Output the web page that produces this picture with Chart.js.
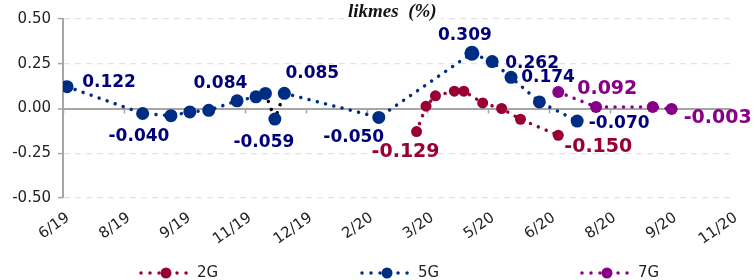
<!DOCTYPE html>
<html><head><meta charset="utf-8">
<script src="https://cdn.jsdelivr.net/npm/chart.js@4.4.1/dist/chart.umd.min.js"></script>
<style>
body{margin:0;background:#fff;}
#wrap{position:relative;width:755px;height:280px;overflow:hidden;}
#title{position:absolute;left:344px;top:1px;font:italic bold 19px "Liberation Serif";background:#fff;padding:0 4px;white-space:pre;color:#111;line-height:20px;}
</style></head><body>
<div id="wrap"><canvas id="c" width="755" height="280"></canvas><div id="title">likmes  (%)</div></div>
<script>
// ---- data ----
const xTickLabels = ['6/19','8/19','9/19','11/19','12/19','2/20','3/20','5/20','6/20','8/20','9/20','11/20'];
const tickStepDays = 45;
const seriesNames = ['2G','5G','7G'];

const days2G   = [262, 269, 276, 290, 297, 311, 325, 339, 367];
const values2G = [-0.129, 0.013, 0.071, 0.097, 0.097, 0.031, 0.000, -0.060, -0.150];

const days5G   = [3, 59, 80, 94, 108, 129, 143, 150, 157, 164, 234, 303, 318, 332, 353, 381];
const values5G = [0.122, -0.028, -0.040, -0.019, -0.010, 0.043, 0.065, 0.084, -0.059, 0.085, -0.050, 0.309, 0.262, 0.174, 0.037, -0.070];

const days7G   = [367, 395, 437, 451];
const values7G = [0.092, 0.009, 0.009, -0.003];

const labeled2G = [0, 8];
const labeled5G = [0, 2, 7, 8, 9, 10, 11, 12, 13, 15];
const labeled7G = [0, 3];

// ---- styling ----
const colors = {
  '2G': {line:'#990033', label:'#990033'},
  '5G': {line:'#002D84', label:'#00007A'},
  '7G': {line:'#870087', label:'#870087'}
};
const labelOffsets = {
  '2G': {0:[-11,19], 8:[40,10]},
  '5G': {0:[42,-6], 2:[-32,19], 7:[-45,-12], 8:[-11,22], 9:[28,-21], 10:[-25,18], 11:[-7,-19], 12:[40,0], 13:[37,-1], 15:[42,1]},
  '7G': {0:[49,-5], 3:[46,7]}
};
const labelFont = {'2G':19, '5G':17, '7G':19};
const seriesDays = [days2G, days5G, days7G];
const seriesValues = [values2G, values5G, values7G];
const seriesLabeled = [labeled2G, labeled5G, labeled7G];

function pts(d, v){ return d.map((x,i)=>({x:x, y:v[i]})); }

const dotted = {borderDash:[0.01, 8.5], borderCapStyle:'round', borderWidth:3.5, tension:0, fill:false, pointBorderWidth:0};

const datasets = [
  Object.assign({label:'2G', data:pts(days2G, values2G), borderColor:colors['2G'].line, pointBackgroundColor:colors['2G'].line, pointRadius:5.5}, dotted),
  Object.assign({label:'5G', data:pts(days5G, values5G), borderColor:colors['5G'].line, pointBackgroundColor:colors['5G'].line,
    pointRadius: values5G.map((v,i)=> i===11 ? 7.5 : 6.5),
    segment:{borderColor: c => (c.p0DataIndex===7 || c.p0DataIndex===8) ? '#000000' : undefined}}, dotted),
  Object.assign({label:'7G', data:pts(days7G, values7G), borderColor:colors['7G'].line, pointBackgroundColor:colors['7G'].line, pointRadius:6}, dotted)
];

const extras = {
  id:'extras',
  beforeDatasetsDraw(chart){
    const ctx = chart.ctx, xs = chart.scales.x, ys = chart.scales.y;
    const y0 = ys.getPixelForValue(0);
    ctx.save();
    ctx.strokeStyle = '#a6a6a6'; ctx.lineWidth = 1.5;
    xs.ticks.forEach(t => {
      const px = Math.round(xs.getPixelForValue(t.value)) + 0.5;
      ctx.beginPath(); ctx.moveTo(px, y0); ctx.lineTo(px, y0 + 5); ctx.stroke();
    });
    ctx.restore();
  },
  afterDatasetsDraw(chart){
    const ctx = chart.ctx;
    ctx.save();
    seriesNames.forEach((name, di) => {
      const meta = chart.getDatasetMeta(di);
      const fs = labelFont[name];
      ctx.font = 'bold ' + fs + 'px "DejaVu Sans"';
      ctx.fillStyle = colors[name].label;
      ctx.textAlign = 'center'; ctx.textBaseline = 'alphabetic';
      seriesLabeled[di].forEach(idx => {
        const el = meta.data[idx];
        const off = labelOffsets[name][idx] || [0,-15];
        ctx.fillText(seriesValues[di][idx].toFixed(3), el.x + off[0], el.y + off[1] + fs*0.36);
      });
    });
    // legend
    const legendX = [141, 362, 582], ly = 273;
    seriesNames.forEach((name, di) => {
      const x0 = legendX[di], c = colors[name].line;
      ctx.strokeStyle = c; ctx.lineWidth = 3.5; ctx.lineCap = 'round';
      ctx.setLineDash([0.01, 9]);
      ctx.beginPath(); ctx.moveTo(x0, ly); ctx.lineTo(x0 + 48, ly); ctx.stroke();
      ctx.setLineDash([]);
      ctx.fillStyle = c;
      ctx.beginPath(); ctx.arc(x0 + 25, ly, 5.5, 0, Math.PI*2); ctx.fill();
      ctx.fillStyle = '#222';
      ctx.font = '15px "DejaVu Sans"'; ctx.textAlign = 'left'; ctx.textBaseline = 'middle';
      ctx.fillText(name, x0 + 56, ly);
    });
    ctx.restore();
  }
};

new Chart(document.getElementById('c'), {
  type:'line',
  data:{datasets},
  options:{
    responsive:false, animation:false, events:[],
    layout:{padding:{left:0, right:24, top:19, bottom:0}},
    plugins:{legend:{display:false}, tooltip:{enabled:false}},
    scales:{
      x:{type:'linear', min:0, max:tickStepDays*(xTickLabels.length-1),
        afterFit: s => { s.height = 82; s.paddingLeft = 0; s.paddingRight = 0; },
        afterBuildTicks: s => { s.ticks = xTickLabels.map((l,i)=>({value:i*tickStepDays})); },
        ticks:{autoSkip:false, minRotation:35, maxRotation:35, padding:3, labelOffset:5, color:'#222',
          font:{family:'DejaVu Sans', size:15},
          callback: v => xTickLabels[Math.round(v/tickStepDays)]},
        grid:{display:false}, border:{display:false}},
      y:{min:-0.5, max:0.5,
        afterFit: s => { s.width = 63; s.paddingTop = 0; s.paddingBottom = 0; },
        afterBuildTicks: s => { s.ticks = [-0.5,-0.25,0,0.25,0.5].map(v=>({value:v})); },
        ticks:{stepSize:0.25, padding:7, color:'#222', font:{family:'DejaVu Sans', size:15},
          callback: v => v.toFixed(2)},
        grid:{color: c => c.tick && c.tick.value===0 ? '#a6a6a6' : '#e3e3e3',
          lineWidth: c => c.tick && c.tick.value===0 ? 2 : 1.2,
          tickColor:'#a6a6a6', tickLength:5, tickWidth:1.5},
        border:{display:true, color:'#a6a6a6', width:2, dash: c => (c.tick && c.tick.value===0) ? [] : [6,5]}}
    }
  },
  plugins:[extras]
});
</script>
</body></html>
